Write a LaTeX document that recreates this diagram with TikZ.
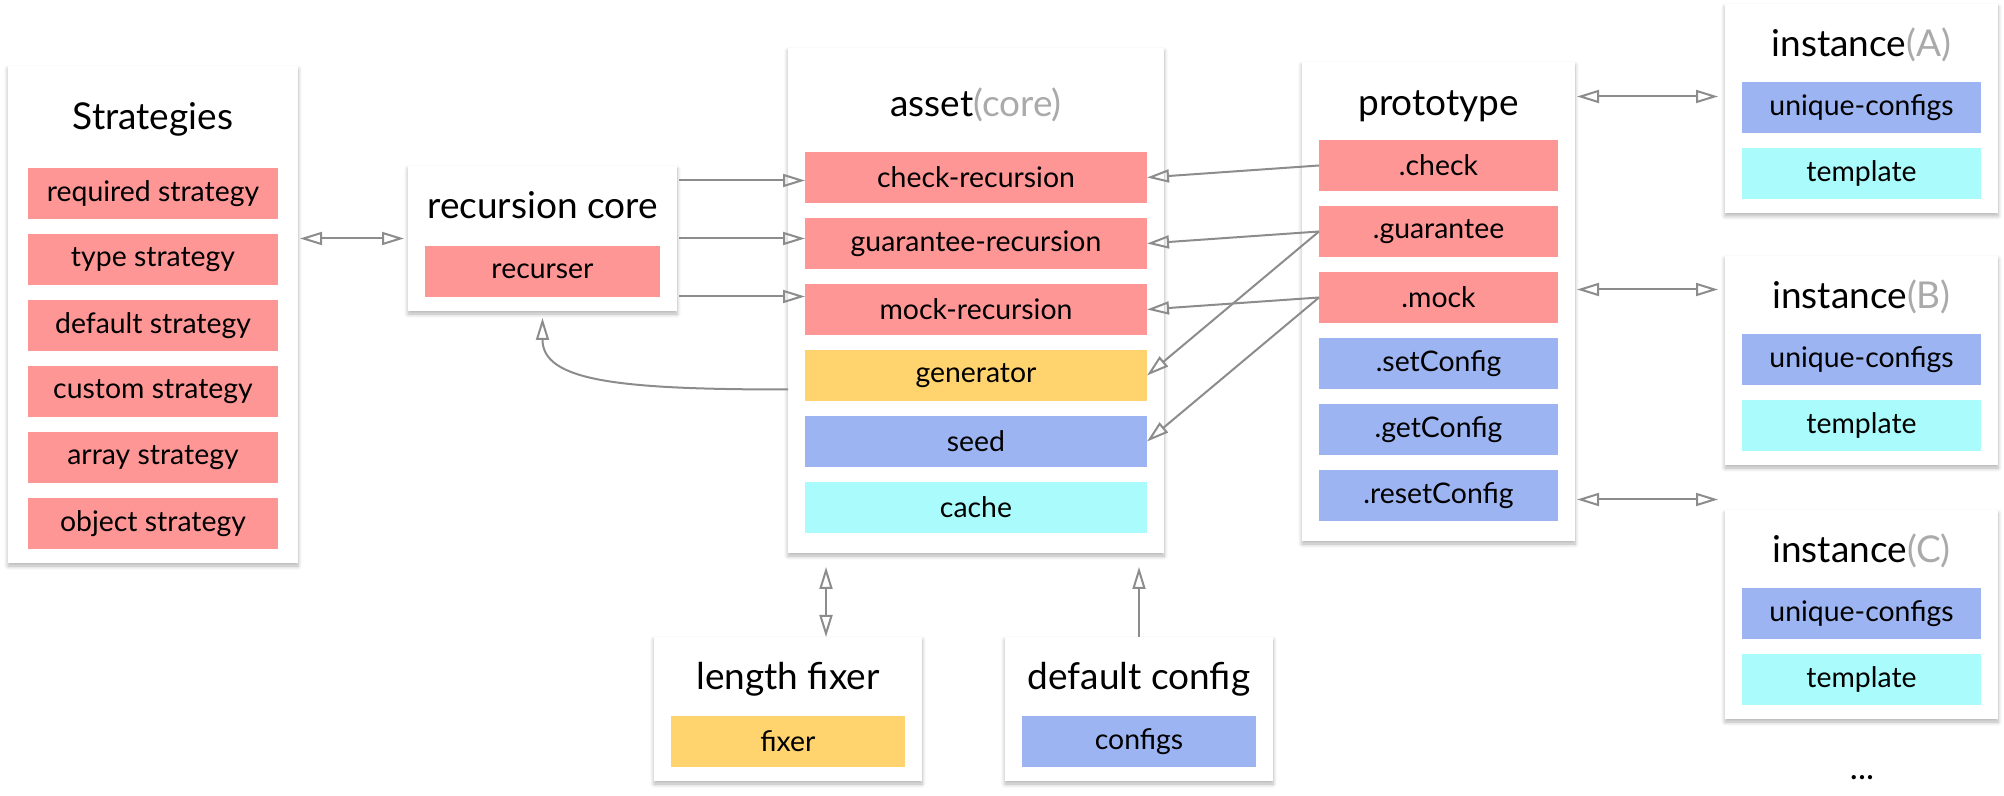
\documentclass[tikz,border=0pt]{standalone}
\usepackage{fontspec}
\setmainfont{Lato}
\usetikzlibrary{matrix,positioning,arrows.meta,shadows.blur}

\definecolor{itemred}{RGB}{255,150,150}
\definecolor{itemyellow}{RGB}{255,211,110}
\definecolor{itemblue}{RGB}{157,180,242}
\definecolor{itemcyan}{RGB}{170,252,252}
\definecolor{linkgray}{RGB}{140,140,140}
\definecolor{notegray}{RGB}{170,170,170}

\begin{document}
\begin{tikzpicture}[
x=0.5pt, y=-0.5pt,
box/.style={
  matrix of nodes,
  fill=white,
  inner xsep=8.5pt,
  inner ysep=7pt,
  outer sep=0pt,
  anchor=north west,
  blur shadow={shadow xshift=0pt, shadow yshift=-1.5pt, shadow blur steps=6, shadow opacity=30},
  row sep=7.5pt,
  nodes={
    inner sep=0pt,
    outer sep=0pt,
    minimum height=25.5pt,
    font=\fontsize{14.2}{17}\selectfont
    },
  },
ttl/.style={
  fill=none,
  minimum height=#1,
  text depth=0pt,
  font=\fontsize{18.5}{22}\selectfont
  },
ttl/.default=25pt,
redcell/.style={fill=itemred},
yellowcell/.style={fill=itemyellow},
bluecell/.style={fill=itemblue},
cyancell/.style={fill=itemcyan},
link/.style={
  draw=linkgray,
  line width=1pt
  },
>={Triangle[open,length=11pt,width=6.5pt]}
]
\useasboundingbox (0,0) rectangle (2004,796);

% strategies
\matrix[box, inner xsep=10pt, nodes={redcell, minimum width=125pt}] (strat) at (8,66)
{
|[ttl=36.5pt]| Strategies \\
required strategy \\
type strategy \\
default strategy \\
custom strategy \\
array strategy \\
object strategy \\
};

% recursion core
\matrix[box, nodes={redcell, minimum width=117.5pt}] (rec) at (408,166)
{
|[ttl=25.5pt]| recursion core \\
recurser \\
};

% asset
\matrix[box, inner ysep=10pt, nodes={redcell, minimum width=171pt}] (asset) at (788,48)
{
|[ttl=34.5pt]| asset{\color{notegray}(core)} \\
check-recursion \\
guarantee-recursion \\
mock-recursion \\
|[yellowcell]| generator \\
|[bluecell]| seed \\
|[cyancell]| cache \\
};

% prototype
\matrix[box, inner ysep=10pt, nodes={redcell, minimum width=119.5pt}] (proto) at (1302,62)
{
|[ttl=21.5pt]| prototype \\
.check \\
.guarantee \\
.mock \\
|[bluecell]| .setConfig \\
|[bluecell]| .getConfig \\
|[bluecell]| .resetConfig \\
};

% instances
\matrix[box, nodes={bluecell, minimum width=119.5pt}] (instA) at (1725,4)
{
|[ttl=24.5pt]| instance{\color{notegray}(A)} \\
unique-configs \\
|[cyancell]| template \\
};
\matrix[box, nodes={bluecell, minimum width=119.5pt}] (instB) at (1725,256)
{
|[ttl=24.5pt]| instance{\color{notegray}(B)} \\
unique-configs \\
|[cyancell]| template \\
};
\matrix[box, nodes={bluecell, minimum width=119.5pt}] (instC) at (1725,510)
{
|[ttl=24.5pt]| instance{\color{notegray}(C)} \\
unique-configs \\
|[cyancell]| template \\
};
\node[font=\fontsize{17}{20}\selectfont] (more) at (1862,778) {...};

% helpers below the asset
\matrix[box, nodes={yellowcell, minimum width=117pt}] (lenfix) at (654,637)
{
|[ttl]| length fixer \\
fixer \\
};
\matrix[box, nodes={bluecell, minimum width=117pt}] (defcfg) at (1005,637)
{
|[ttl]| default config \\
configs \\
};

% connectors
\draw[link,<->,shorten <=1pt,shorten >=2pt] (strat.east |- rec.west) -- (rec.west);

\foreach \dy [count=\ri from 2] in {29,0,-29}{
  \coordinate (rr) at ([yshift=\dy pt]rec.east);
  \draw[link,->,shorten <=1pt] (rr) -- (rr -| asset-\ri-1.west);
}

\coordinate (gen) at ([yshift=-7pt]asset-5-1.west);
\draw[link,->,shorten >=3.5pt] (gen -| asset.west) .. controls +(-170,0) and +(0,70) .. (rec.south);

\foreach \p/\a in {2/2,3/3,4/4,3/5,4/6}
  \draw[link,->] (proto-\p-1.west) -- (asset-\a-1.east);

\foreach \pr/\inst/\dy in {1/instA/3.5, 4/instB/4, 7/instC/-2}{
  \coordinate (pp) at ([yshift=\dy pt]proto-\pr-1.east);
  \draw[link,<->,shorten <=1pt,shorten >=3.5pt] (pp -| proto.east) -- (pp -| \inst.west);
}

\coordinate (lf) at ([xshift=19pt]lenfix.north);
\draw[link,<->,shorten >=7pt] (lf) -- (lf |- asset.south);
\draw[link,->,shorten >=7pt] (defcfg.north) -- (defcfg.north |- asset.south);
\end{tikzpicture}
\end{document}
